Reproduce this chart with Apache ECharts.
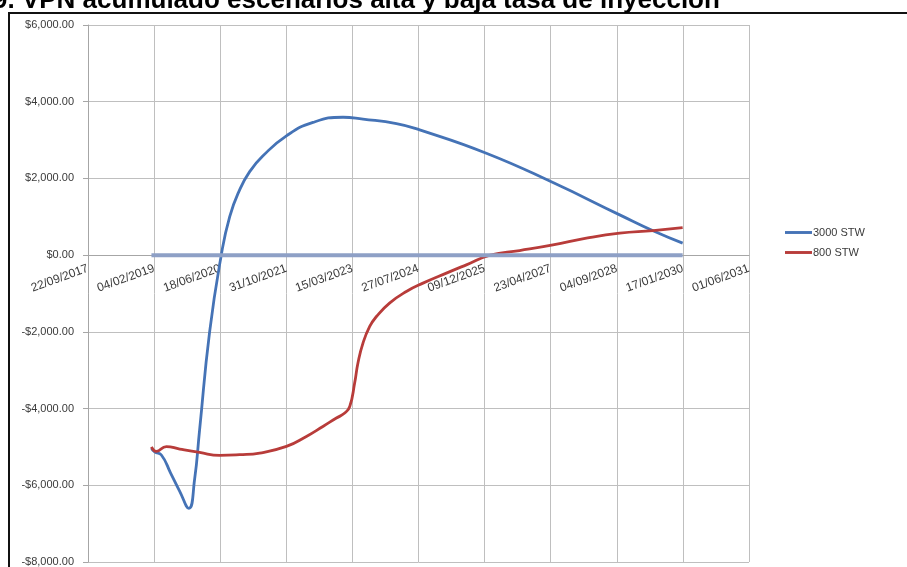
<!DOCTYPE html>
<html>
<head>
<meta charset="utf-8">
<script src="https://cdn.jsdelivr.net/npm/echarts@6/dist/echarts.min.js"></script>
<style>
html,body{margin:0;padding:0;background:#fff;}
#chart{width:907px;height:567px;}
</style>
</head>
<body>
<div id="chart"></div>
<script>
// ---- data ----
const titleText = '9. VPN acumulado escenarios alta y baja tasa de inyección';
const seriesNames = ['3000 STW', '800 STW'];

const xTickLabels = ['22/09/2017','04/02/2019','18/06/2020','31/10/2021','15/03/2023','27/07/2024',
  '09/12/2025','23/04/2027','04/09/2028','17/01/2030','01/06/2031'];
const yTickLabels = ['-$8,000.00','-$6,000.00','-$4,000.00','-$2,000.00','$0.00','$2,000.00','$4,000.00','$6,000.00'];

const blueDates = ['2019-01-15','2019-02-08','2019-03-31','2019-06-09','2019-08-16','2019-10-25',
  '2019-12-07','2020-01-14','2020-03-30','2020-06-26','2020-08-29',
  '2020-11-12','2021-01-27','2021-05-08','2021-11-01','2022-05-21','2023-01-03','2023-06-03',
  '2024-02-11','2024-08-05','2025-12-22','2027-05-10','2028-09-26','2029-06-18','2030-01-15'];
const blueValues = [-5030,-5130,-5210,-5680,-6150,-6600,
  -5856,-4560,-2000,0,1006,
  1701,2178,2590,3110,3460,3595,3545,
  3430,3265,2657,1892,1050,615,313];

const redDates = ['2019-01-15','2019-02-21','2019-05-08','2019-08-17','2020-01-14','2020-06-14',
  '2020-11-12','2021-04-13','2021-11-01','2022-04-01','2022-08-04','2022-11-14','2023-01-16',
  '2023-02-23','2023-04-01','2023-04-26','2023-06-03','2023-07-24','2023-09-13','2023-12-21',
  '2024-04-26','2024-08-30','2025-02-23','2025-07-24','2026-01-20','2026-08-31','2027-05-10',
  '2028-01-18','2028-09-26','2029-06-06','2030-01-15'];
const redValues = [-5000,-5117,-4990,-5055,-5143,-5221,
  -5203,-5159,-4987,-4726,-4466,-4247,-4117,
  -3945,-3335,-2814,-2293,-1860,-1600,-1250,
  -948,-730,-469,-253,0,120,268,
  443,573,641,719];

const zeroDates = ['2019-01-15','2030-01-15'];
const zeroValues = [0,0];

// ---- helpers ----
function serial(s){
  const p = s.split('-').map(Number);
  return Math.round((Date.UTC(p[0],p[1]-1,p[2]) - Date.UTC(1899,11,30)) / 86400000);
}
function pairs(dates, vals){ return dates.map((d,i)=>[serial(d), vals[i]]); }

const X_MIN = 43000, X_MAX = 48000, X_STEP = 500;
const Y_MIN = -8000, Y_MAX = 6000, Y_STEP = 2000;
const FONT = 'Liberation Sans';
const LABEL_COLOR = '#3a3a3a';
const LEG_ICON = 'path://M0,0 L28,0 L28,3 L0,3 Z';
const GRID = {left:88, top:25, width:661, height:537};
// distance from the bottom of the plot up to the zero line (axis crosses at 0)
const ZERO_OFFSET = -GRID.height * (0 - Y_MIN) / (Y_MAX - Y_MIN);

const chart = echarts.init(document.getElementById('chart'), null, {renderer:'canvas'});
chart.setOption({
  animation:false,
  backgroundColor:'#ffffff',
  graphic:[
    {type:'rect', z:100, silent:true,
      shape:{x:9, y:13, width:1200, height:1200},
      style:{fill:'none', stroke:'#111', lineWidth:2}},
    {type:'text', z:101, x:-7, y:1,
      style:{text:titleText, font:'bold 26px "Liberation Sans"', fill:'#000',
        textAlign:'left', textVerticalAlign:'middle'}}
  ],
  grid:{left:GRID.left, top:GRID.top, width:GRID.width, height:GRID.height,
    containLabel:false, outerBoundsMode:'none'},
  legend:{
    orient:'vertical', left:780, top:222, itemWidth:27, itemHeight:3, itemGap:9,
    icon:LEG_ICON,
    data:seriesNames,
    textStyle:{fontFamily:FONT, fontSize:11, color:LABEL_COLOR, padding:[0,0,0,-4]}
  },
  xAxis:{
    type:'value', min:X_MIN, max:X_MAX, interval:X_STEP,
    position:'bottom', offset:ZERO_OFFSET,
    axisLine:{onZero:false, lineStyle:{color:'#A6A6A6', width:1}},
    axisTick:{show:false},
    axisLabel:{
      rotate:20, margin:13, color:LABEL_COLOR, fontFamily:FONT, fontSize:12,
      showMinLabel:true, showMaxLabel:true,
      formatter:function(v){ return xTickLabels[Math.round((v-X_MIN)/X_STEP)] || ''; }
    },
    splitLine:{show:true, lineStyle:{color:'#BFBFBF', width:1}}
  },
  yAxis:{
    type:'value', min:Y_MIN, max:Y_MAX, interval:Y_STEP,
    axisLine:{show:true, onZero:false, lineStyle:{color:'#A6A6A6', width:1}},
    axisTick:{show:true, length:5, lineStyle:{color:'#A6A6A6'}},
    axisLabel:{
      margin:14, color:LABEL_COLOR, fontFamily:FONT, fontSize:11,
      formatter:function(v){ return yTickLabels[Math.round((v-Y_MIN)/Y_STEP)] || ''; }
    },
    splitLine:{show:true, lineStyle:{color:'#BFBFBF', width:1}}
  },
  series:[
    {name:seriesNames[0], type:'line', data:pairs(blueDates, blueValues),
      smooth:0.5, symbol:'none',
      lineStyle:{color:'#4573B6', width:2.8}, itemStyle:{color:'#4573B6'}, z:3},
    {name:seriesNames[1], type:'line', data:pairs(redDates, redValues),
      smooth:0.5, symbol:'none',
      lineStyle:{color:'#B83C3A', width:2.8}, itemStyle:{color:'#B83C3A'}, z:3},
    {name:'cero', type:'line', data:pairs(zeroDates, zeroValues),
      symbol:'none', lineStyle:{color:'#8EA0C6', width:4}, z:4}
  ]
});
</script>
</body>
</html>
